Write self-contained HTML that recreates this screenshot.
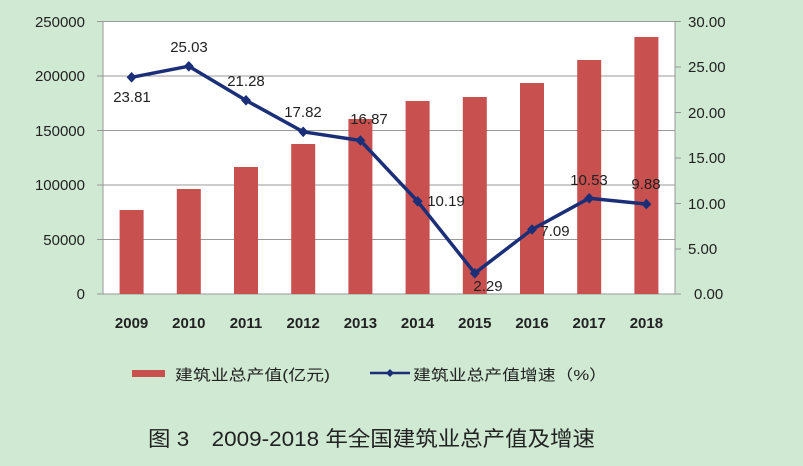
<!DOCTYPE html><html><head><meta charset="utf-8"><style>body{margin:0;background:#d0e9d3}svg{display:block}</style></head><body>
<svg width="803" height="466" xmlns="http://www.w3.org/2000/svg" font-family="Liberation Sans, 'Noto Sans CJK SC', sans-serif">
<rect width="803" height="466" fill="#d0e9d3"/>
<rect x="103" y="21" width="572" height="273" fill="#fff"/>
<g stroke="#999" stroke-width="1">
<line x1="97" y1="21.5" x2="675" y2="21.5"/><line x1="97" y1="76" x2="675" y2="76"/><line x1="97" y1="130.5" x2="675" y2="130.5"/><line x1="97" y1="185" x2="675" y2="185"/><line x1="97" y1="239.5" x2="675" y2="239.5"/><line x1="97" y1="294" x2="681" y2="294"/>
<line x1="103" y1="21" x2="103" y2="294"/><line x1="675" y1="21" x2="675" y2="294"/>
<line x1="675" y1="21.5" x2="681" y2="21.5"/><line x1="675" y1="67" x2="681" y2="67"/><line x1="675" y1="112.5" x2="681" y2="112.5"/><line x1="675" y1="158" x2="681" y2="158"/><line x1="675" y1="203.5" x2="681" y2="203.5"/><line x1="675" y1="249" x2="681" y2="249"/>
</g>
<g fill="#c8504f">
<rect x="119.6" y="210" width="24" height="84"/><rect x="176.8" y="189" width="24" height="105"/><rect x="234" y="167" width="24" height="127"/><rect x="291.2" y="144" width="24" height="150"/><rect x="348.4" y="119" width="24" height="175"/><rect x="405.6" y="101" width="24" height="193"/><rect x="462.8" y="97" width="24" height="197"/><rect x="520" y="83" width="24" height="211"/><rect x="577.2" y="60" width="24" height="234"/><rect x="634.4" y="37" width="24" height="257"/>
</g>
<polyline fill="none" stroke="#1a2f78" stroke-width="3.5" stroke-linejoin="round" points="131.6,77.3 188.8,66.2 246,100.4 303.2,131.8 360.4,140.5 417.6,201.3 474.8,273.2 532,229.5 589.2,198.2 646.4,204.1"/>
<g fill="#1a2f78">
<path d="M131.6 72l5 5.3-5 5.3-5-5.3z"/><path d="M188.8 61l5 5.3-5 5.3-5-5.3z"/><path d="M246 95l5 5.3-5 5.3-5-5.3z"/><path d="M303.2 126.5l5 5.3-5 5.3-5-5.3z"/><path d="M360.4 135.2l5 5.3-5 5.3-5-5.3z"/><path d="M417.6 196l5 5.3-5 5.3-5-5.3z"/><path d="M474.8 268l5 5.3-5 5.3-5-5.3z"/><path d="M532 224.2l5 5.3-5 5.3-5-5.3z"/><path d="M589.2 193l5 5.3-5 5.3-5-5.3z"/><path d="M646.4 198.8l5 5.3-5 5.3-5-5.3z"/>
</g>
<g font-size="15" fill="#222" text-anchor="middle">
<text x="132" y="102">23.81</text><text x="189" y="52">25.03</text><text x="246" y="86">21.28</text><text x="303" y="117">17.82</text><text x="369" y="124">16.87</text><text x="446" y="206">10.19</text><text x="488" y="291">2.29</text><text x="555" y="236">7.09</text><text x="589" y="185">10.53</text><text x="646" y="189">9.88</text>
</g>
<g font-size="15" fill="#222" text-anchor="end">
<text x="85" y="27">250000</text><text x="85" y="81">200000</text><text x="85" y="136">150000</text><text x="85" y="190">100000</text><text x="85" y="245">50000</text><text x="85" y="299">0</text>
</g>
<g font-size="15" fill="#222">
<text x="688" y="27">30.00</text><text x="688" y="72">25.00</text><text x="688" y="118">20.00</text><text x="688" y="163">15.00</text><text x="688" y="209">10.00</text><text x="688" y="254">5.00</text><text x="694" y="299">0.00</text>
</g>
<g font-size="15" fill="#222" text-anchor="middle" font-weight="bold">
<text x="131.6" y="328">2009</text><text x="188.8" y="328">2010</text><text x="246" y="328">2011</text><text x="303.2" y="328">2012</text><text x="360.4" y="328">2013</text><text x="417.6" y="328">2014</text><text x="474.8" y="328">2015</text><text x="532" y="328">2016</text><text x="589.2" y="328">2017</text><text x="646.4" y="328">2018</text>
</g>
<rect x="132" y="370" width="33" height="7" fill="#c8504f"/>
<text x="175" y="380" font-size="15" fill="#222" textLength="155" lengthAdjust="spacingAndGlyphs">建筑业总产值(亿元)</text>
<line x1="370" y1="373" x2="410" y2="373" stroke="#1a2f78" stroke-width="2.5"/>
<path d="M390 369l4 4-4 4-4-4z" fill="#1a2f78"/>
<text x="413" y="380" font-size="15" fill="#222" textLength="194" lengthAdjust="spacingAndGlyphs">建筑业总产值增速（%）</text>
<text x="148" y="446" font-size="21" fill="#222" textLength="447" lengthAdjust="spacingAndGlyphs">图 3　2009-2018 年全国建筑业总产值及增速</text>
</svg>
</body></html>
